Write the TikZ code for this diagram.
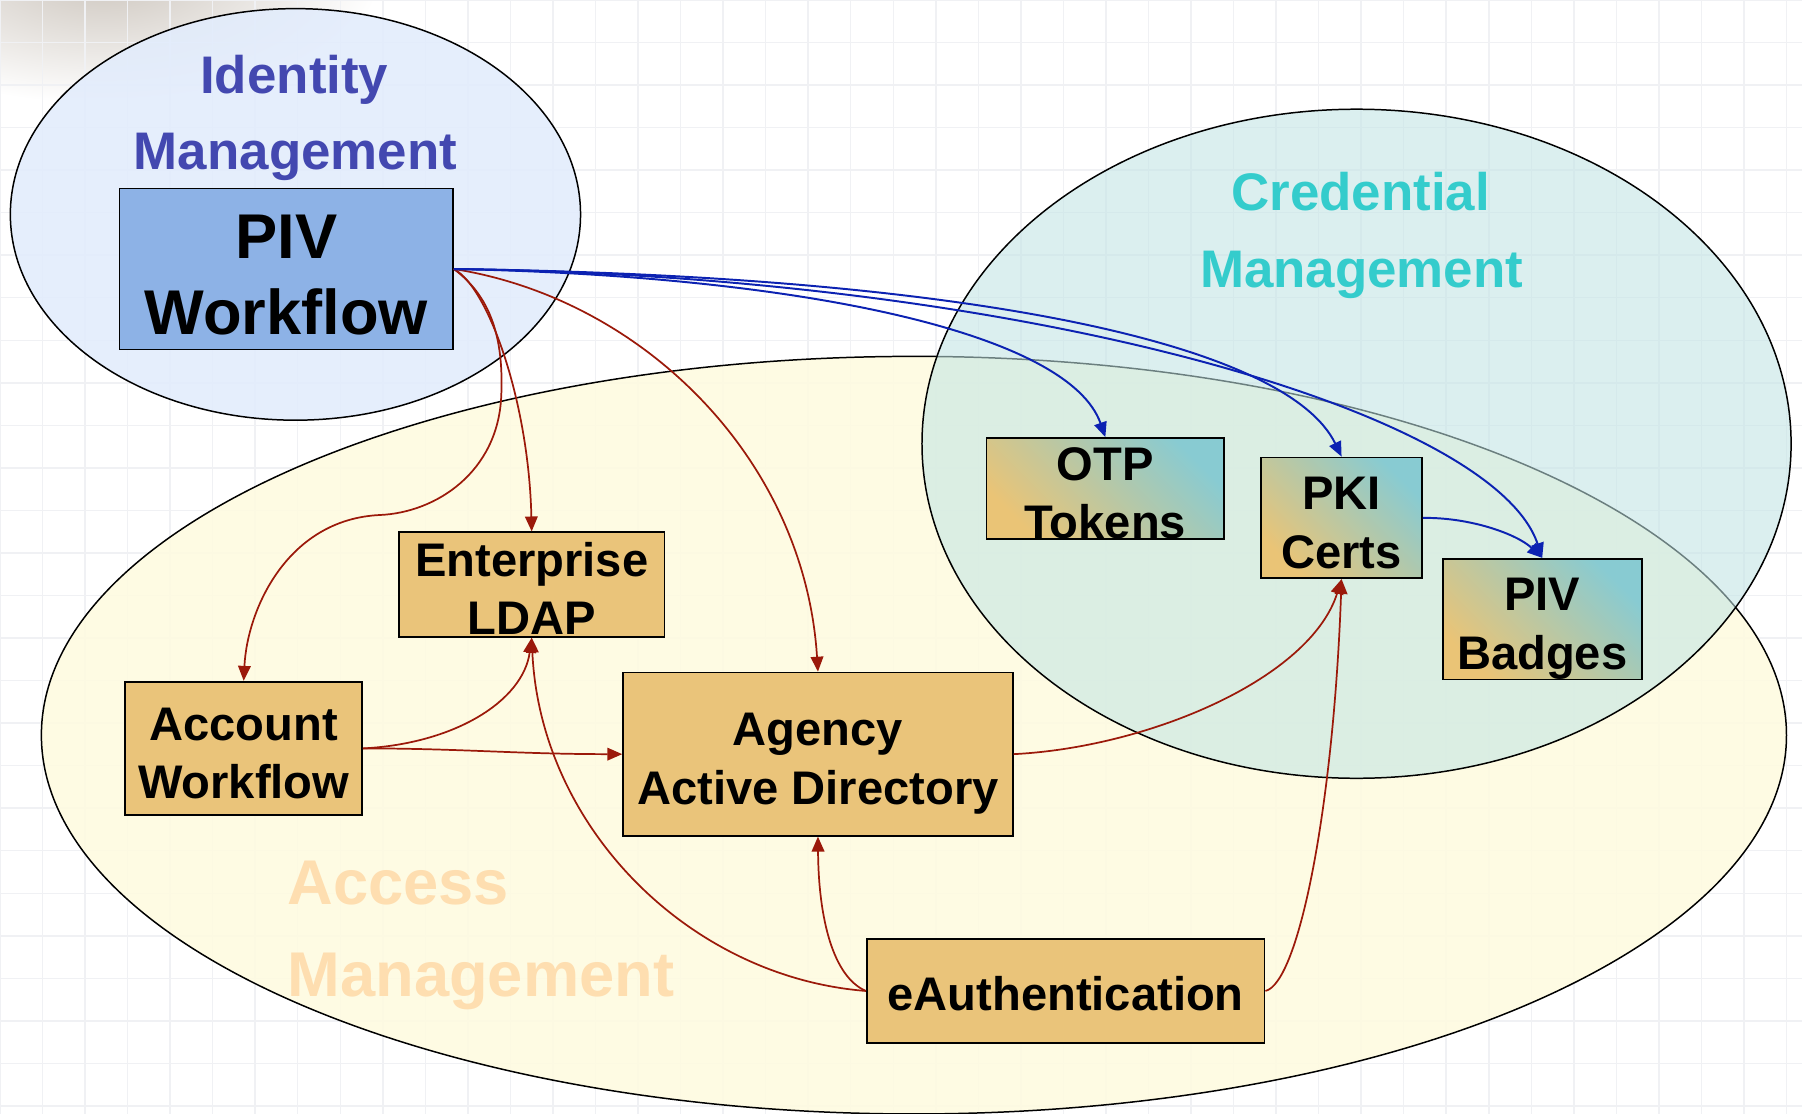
\documentclass[tikz,border=0pt]{standalone}
\usepackage{fontspec}
\setmainfont{Liberation Sans}
\usetikzlibrary{arrows.meta}
\definecolor{boxorange}{RGB}{234,196,122}
\definecolor{pivblue}{RGB}{141,178,230}
\definecolor{gradteal}{RGB}{136,203,210}
\definecolor{gradorange}{RGB}{234,196,118}
\definecolor{linered}{RGB}{155,25,10}
\definecolor{lineblue}{RGB}{12,34,178}
\definecolor{idfill}{RGB}{226,236,252}
\definecolor{accfill}{RGB}{254,251,224}
\definecolor{credfill}{RGB}{192,228,228}
\definecolor{idtext}{RGB}{67,72,176}
\definecolor{credtext}{RGB}{52,204,204}
\definecolor{acctext}{RGB}{254,222,176}
\definecolor{gridc}{RGB}{240,241,244}
\definecolor{smudge}{RGB}{205,198,190}
\begin{document}
\begin{tikzpicture}[x=1pt,y=-1pt,
  ell/.style={draw=black, line width=1.3pt},
  boxn/.style={draw=black, line width=1.5pt, inner sep=0pt, align=center,
    font=\bfseries\fontsize{41}{51}\selectfont, text height=87.4pt, text depth=0pt},
  orangebox/.style={boxn, fill=boxorange},
  gradbox/.style={boxn, top color=gradteal, bottom color=gradorange, shading angle=-45},
  redarr/.style={draw=linered, line width=1.5pt, -{Triangle[length=13pt,width=11pt]}},
  bluearr/.style={draw=lineblue, line width=1.7pt, -{Triangle[length=13pt,width=11pt]}},
  title/.style={font=\bfseries\fontsize{46}{46}\selectfont, anchor=base, inner sep=0pt},
  bigtitle/.style={font=\bfseries\fontsize{55}{55}\selectfont, anchor=base west, inner sep=0pt},
  gridline/.style={draw=gridc, line width=1.3pt}
]
\useasboundingbox (0,0) rectangle (1567.5,969);
\fill[white] (0,0) rectangle (1567.5,969);
\shade[inner color=smudge, outer color=white] (90,-20) ellipse (240 and 110);
\foreach \i in {0,37,...,1568} \draw[gridline] (\i,0) -- (\i,969);
\foreach \j in {0,37,...,969} \draw[gridline] (0,\j) -- (1568,\j);

% regions
\draw[ell, fill=idfill, fill opacity=0.88] (257,186.5) ellipse (248 and 179);
\draw[ell, fill=accfill, fill opacity=0.88] (795,639.5) ellipse (759 and 329.5);
\draw[ell, fill=credfill, fill opacity=0.56] (1180,386) ellipse (378 and 291);

% region titles
\node[title, text=idtext] (t1) at (256,81.5) {Identity};
\node[title, text=idtext] (t2) at (257,147.5) {Management};
\node[title, text=credtext] (t3) at (1183.5,183.5) {Credential};
\node[title, text=credtext] (t4) at (1184.5,250.5) {Management};
\node[bigtitle, text=acctext] (t5) at (250,786.7) {Access};
\node[bigtitle, text=acctext] (t6) at (250,866.7) {Management};

% boxes
\node[boxn, fill=pivblue, minimum width=290pt, minimum height=140pt,
  font=\bfseries\fontsize{55}{66}\selectfont, text height=113.4pt] (piv) at (249,234) {PIV\\Workflow};
\node[orangebox, minimum width=231pt, minimum height=91pt] (ent) at (462.5,508.5) {Enterprise\\LDAP};
\node[orangebox, minimum width=206pt, minimum height=116pt] (acc) at (212,651) {Account\\Workflow};
\node[orangebox, minimum width=339pt, minimum height=142pt] (agy) at (711.5,656) {Agency\\Active Directory};
\node[orangebox, minimum width=346pt, minimum height=90pt, text height=33.4pt] (eau) at (927,862) {eAuthentication};
\node[gradbox, minimum width=207pt, minimum height=88pt] (otp) at (961.5,425) {OTP\\Tokens};
\node[gradbox, minimum width=140pt, minimum height=105pt] (pki) at (1167,450.5) {PKI\\Certs};
\node[gradbox, minimum width=173pt, minimum height=105pt] (bdg) at (1341.5,538.5) {PIV\\Badges};

% red connectors
\draw[redarr] (piv.east) .. controls (430,260) and (438,300) .. (436,345)
  .. controls (433,410) and (380,446) .. (330,448)
  .. controls (250,452) and (215,530) .. (acc.north);
\draw[redarr] (piv.east) .. controls (425,250) and (460,350) .. (ent.north);
\draw[redarr] (piv.east) .. controls (560,260) and (700,400) .. (agy.north);
\draw[redarr] (acc.east) .. controls (395,647) and (455,610) .. (ent.south);
\draw[redarr] (acc.east) .. controls (400,651) and (450,656) .. (agy.west);
\draw[redarr] (eau.west) .. controls (600,850) and (470,720) .. (ent.south);
\draw[redarr] (eau.west) .. controls (725,850) and (712,800) .. (agy.south);
\draw[redarr] (agy.east) .. controls (1000,650) and (1140,590) .. (pki.south);
\draw[redarr] (eau.east) .. controls (1130,855) and (1160,700) .. (pki.south);

% blue connectors
\draw[bluearr] (piv.east) .. controls (700,240) and (930,290) .. (otp.north);
\draw[bluearr] (piv.east) .. controls (850,240) and (1120,300) .. (pki.north);
\draw[bluearr] (piv.east) .. controls (900,240) and (1300,360) .. (bdg.north);
\draw[bluearr] (pki.east) .. controls (1280,450) and (1320,465) .. (bdg.north);
\end{tikzpicture}
\end{document}
